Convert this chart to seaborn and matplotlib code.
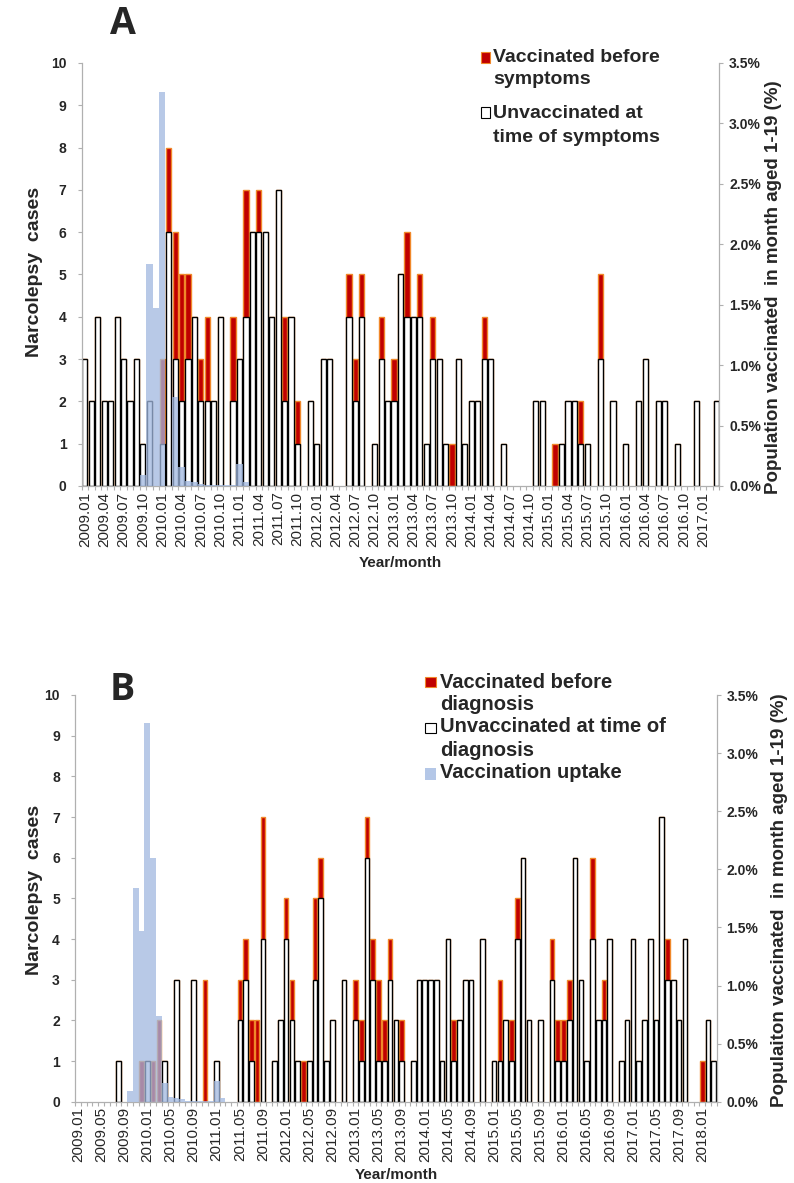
import numpy as np
import pandas as pd
import matplotlib
matplotlib.use("Agg")
import matplotlib.pyplot as plt
import seaborn as sns
from matplotlib.patches import Rectangle

sns.set_theme(style="white")
plt.rcParams["font.family"] = ["Liberation Sans", "DejaVu Sans"]

# ---------------- data ----------------
months_a = [p.strftime("%Y.%m") for p in pd.period_range("2009-01", "2017-03", freq="M")]
months_b = [p.strftime("%Y.%m") for p in pd.period_range("2009-01", "2018-03", freq="M")]

# Panel A: onset of symptoms
unvac_a = [3, 2, 4, 2, 2, 4, 3, 2, 3, 1, 2, 0,   # 2009
           1, 6, 3, 2, 3, 4, 2, 2, 2, 4, 0, 2,   # 2010
           3, 4, 6, 6, 6, 4, 7, 2, 4, 1, 0, 2,   # 2011
           1, 3, 3, 0, 0, 4, 2, 4, 0, 1, 3, 2,   # 2012
           2, 5, 4, 4, 4, 1, 3, 3, 1, 0, 3, 1,   # 2013
           2, 2, 3, 3, 0, 1, 0, 0, 0, 0, 2, 2,   # 2014
           0, 0, 1, 2, 2, 1, 1, 0, 3, 0, 2, 0,   # 2015
           1, 0, 2, 3, 0, 2, 2, 0, 1, 0, 0, 2,   # 2016
           0, 0, 2]                              # 2017
vac_a = [0, 0, 0, 0, 0, 0, 0, 0, 0, 0, 0, 0,
         2, 2, 3, 3, 2, 0, 1, 2, 0, 0, 0, 2,
         0, 3, 0, 1, 0, 0, 0, 2, 0, 1, 0, 0,
         0, 0, 0, 0, 0, 1, 1, 1, 0, 0, 1, 0,
         1, 0, 2, 0, 1, 0, 1, 0, 0, 1, 0, 0,
         0, 0, 1, 0, 0, 0, 0, 0, 0, 0, 0, 0,
         0, 1, 0, 0, 0, 1, 0, 0, 2, 0, 0, 0,
         0, 0, 0, 0, 0, 0, 0, 0, 0, 0, 0, 0,
         0, 0, 0]
uptake_a = [0, 0, 0, 0, 0, 0, 0, 0, 0, 0.09, 1.84, 1.47,
            3.26, 0.0, 0.74, 0.16, 0.04, 0.03, 0.02, 0.01, 0.007, 0.007, 0.007, 0.007,
            0.18, 0.03] + [0] * 73

# Panel B: diagnosis
unvac_b = [0, 0, 0, 0, 0, 0, 0, 1, 0, 0, 0, 0,   # 2009
           1, 0, 0, 1, 0, 3, 0, 0, 3, 0, 0, 0,   # 2010
           1, 0, 0, 0, 2, 3, 1, 0, 4, 0, 1, 2,   # 2011
           4, 2, 1, 0, 1, 3, 5, 1, 2, 0, 3, 0,   # 2012
           2, 1, 6, 3, 1, 1, 3, 2, 1, 0, 1, 3,   # 2013
           3, 3, 3, 1, 4, 1, 2, 3, 3, 0, 4, 0,   # 2014
           1, 1, 2, 1, 4, 6, 2, 0, 2, 0, 3, 1,   # 2015
           1, 2, 6, 3, 1, 4, 2, 2, 4, 0, 1, 2,   # 2016
           4, 1, 2, 4, 2, 7, 3, 3, 2, 4, 0, 0,   # 2017
           0, 2, 1]                              # 2018
vac_b = [0, 0, 0, 0, 0, 0, 0, 0, 0, 0, 0, 1,
         0, 1, 2, 0, 0, 0, 0, 0, 0, 0, 3, 0,
         0, 0, 0, 0, 1, 1, 1, 2, 3, 0, 0, 0,
         1, 1, 0, 1, 0, 2, 1, 0, 0, 0, 0, 0,
         1, 1, 1, 1, 2, 1, 1, 0, 1, 0, 0, 0,
         0, 0, 0, 0, 0, 1, 0, 0, 0, 0, 0, 0,
         0, 2, 0, 1, 1, 0, 0, 0, 0, 0, 1, 1,
         1, 1, 0, 0, 0, 2, 0, 1, 0, 0, 0, 0,
         0, 0, 0, 0, 0, 0, 1, 0, 0, 0, 0, 0,
         1, 0, 0]
uptake_b = [0, 0, 0, 0, 0, 0, 0, 0, 0, 0.09, 1.84, 1.47,
            3.26, 2.10, 0.74, 0.16, 0.04, 0.03, 0.02, 0.01, 0.007, 0.007, 0.007, 0.007,
            0.18, 0.03] + [0] * 85

RED = "#c00000"
ORANGE = "#f0882a"
BLUE = "#a0b8e0"
GREY = "#b0b0b0"

W, H = 794, 1183
fig = plt.figure(figsize=(W / 100, H / 100), dpi=100)


def fx(x):
    return x / W


def fy(y):
    return 1 - y / H


def panel(rect, months, unvac, vac, uptake, step):
    left, top, right, bottom = rect
    ax = fig.add_axes([fx(left), fy(bottom), fx(right - left), (bottom - top) / H])
    df = pd.DataFrame({"month": months, "unvac": unvac, "vac": vac,
                       "total": np.add(unvac, vac), "uptake": uptake})
    n = len(months)
    sns.barplot(data=df, x="month", y="total", order=months, color=RED, saturation=1,
                width=0.8, edgecolor=ORANGE, linewidth=1.0, errorbar=None, ax=ax)
    sns.barplot(data=df, x="month", y="unvac", order=months, color="white", saturation=1,
                width=0.8, edgecolor="black", linewidth=1.0, errorbar=None, ax=ax)
    for p in list(ax.patches):
        if p.get_height() == 0:
            p.remove()
    ax2 = ax.twinx()
    sns.barplot(data=df, x="month", y="uptake", order=months, color=BLUE, saturation=1,
                width=1.0, linewidth=0, alpha=0.75, errorbar=None, ax=ax2)
    for p in list(ax2.patches):
        if p.get_height() == 0:
            p.remove()

    ax.set_xlim(-0.5, n - 0.5)
    ax.set_ylim(0, 10)
    ax2.set_ylim(0, 3.5)
    ax.set_xlabel("")
    ax.set_ylabel("")
    ax2.set_xlabel("")
    ax2.set_ylabel("")

    pos = list(range(0, n, step))
    ax.set_xticks(pos)
    ax.set_xticklabels([months[i] for i in pos], rotation=90, fontsize=11)
    ax.set_xticks(np.arange(-0.5, n, 1), minor=True)
    ax.tick_params(axis="x", which="major", length=0, pad=4)
    ax.tick_params(axis="x", which="minor", length=3, width=0.8, color=GREY, bottom=True)

    ax.set_yticks(range(0, 11))
    ax.set_yticklabels([str(v) for v in range(0, 11)], fontsize=10, fontweight="bold")
    ax.tick_params(axis="y", length=3, width=0.8, color=GREY, left=True, pad=8)
    yt = np.arange(0, 3.51, 0.5)
    ax2.set_yticks(yt)
    ax2.set_yticklabels([f"{v:.1f}%" for v in yt], fontsize=10, fontweight="bold")
    ax2.tick_params(axis="y", length=3, width=0.8, color=GREY, right=True, pad=4)

    for a in (ax, ax2):
        a.grid(False)
        for s in a.spines.values():
            s.set_visible(False)
    ax.spines["left"].set_visible(True)
    ax.spines["left"].set_color(GREY)
    ax.spines["bottom"].set_visible(True)
    ax.spines["bottom"].set_color(GREY)
    ax2.spines["right"].set_visible(True)
    ax2.spines["right"].set_color(GREY)
    for s in ("left", "bottom"):
        ax.spines[s].set_linewidth(0.9)
    ax2.spines["right"].set_linewidth(0.9)
    return ax, ax2


# ---------------- Panel A ----------------
panel((81.7, 63, 719.3, 486), months_a, unvac_a, vac_a, uptake_a, 3)
fig.text(fx(123), fy(24), "A", fontsize=27, fontweight="bold", family=["Open Sans", "DejaVu Sans"],
         ha="center", va="center")
fig.text(fx(35), fy(272), "Narcolepsy  cases", rotation=90, fontsize=14, fontweight="bold",
         ha="center", va="center")
fig.text(fx(774), fy(287), "Population vaccinated  in month aged 1-19 (%)", rotation=90,
         fontsize=13.5, fontweight="bold", ha="center", va="center")
fig.text(fx(400), fy(563), "Year/month", fontsize=11, fontweight="bold", ha="center", va="center")

# legend A
fig.add_artist(Rectangle((fx(481), fy(63)), 9 / W, 11 / H, transform=fig.transFigure,
                         facecolor=RED, edgecolor=ORANGE, linewidth=0.8))
fig.text(fx(493), fy(57), "Vaccinated before", fontsize=14, fontweight="bold", va="center")
fig.text(fx(493), fy(79), "symptoms", fontsize=14, fontweight="bold", va="center")
fig.add_artist(Rectangle((fx(481), fy(118)), 9 / W, 11 / H, transform=fig.transFigure,
                         facecolor="white", edgecolor="black", linewidth=0.8))
fig.text(fx(493), fy(113), "Unvaccinated at", fontsize=14, fontweight="bold", va="center")
fig.text(fx(493), fy(137), "time of symptoms", fontsize=14, fontweight="bold", va="center")

# ---------------- Panel B ----------------
panel((75.1, 695, 716.7, 1101.7), months_b, unvac_b, vac_b, uptake_b, 4)
fig.text(fx(122), fy(690), "B", fontsize=27, fontweight="bold", family=["Open Sans", "DejaVu Sans"],
         ha="center", va="center")
fig.text(fx(35), fy(890), "Narcolepsy  cases", rotation=90, fontsize=14, fontweight="bold",
         ha="center", va="center")
fig.text(fx(780), fy(900), "Populaiton vaccinated  in month aged 1-19 (%)", rotation=90,
         fontsize=13.5, fontweight="bold", ha="center", va="center")
fig.text(fx(396), fy(1175), "Year/month", fontsize=11, fontweight="bold", ha="center", va="center")

# legend B
fig.add_artist(Rectangle((fx(425), fy(687)), 11 / W, 10 / H, transform=fig.transFigure,
                         facecolor=RED, edgecolor=ORANGE, linewidth=0.8))
fig.text(fx(440), fy(682), "Vaccinated before", fontsize=14.5, fontweight="bold", va="center")
fig.text(fx(440), fy(705), "diagnosis", fontsize=14.5, fontweight="bold", va="center")
fig.add_artist(Rectangle((fx(425), fy(733)), 11 / W, 10 / H, transform=fig.transFigure,
                         facecolor="white", edgecolor="black", linewidth=0.8))
fig.text(fx(440), fy(727), "Unvaccinated at time of", fontsize=14.5, fontweight="bold", va="center")
fig.text(fx(440), fy(750), "diagnosis", fontsize=14.5, fontweight="bold", va="center")
fig.add_artist(Rectangle((fx(425), fy(780)), 11 / W, 12 / H, transform=fig.transFigure,
                         facecolor="#b4c7e7", edgecolor="none"))
fig.text(fx(440), fy(773), "Vaccination uptake", fontsize=14.5, fontweight="bold", va="center")

fig.savefig("out.png", dpi=100)
